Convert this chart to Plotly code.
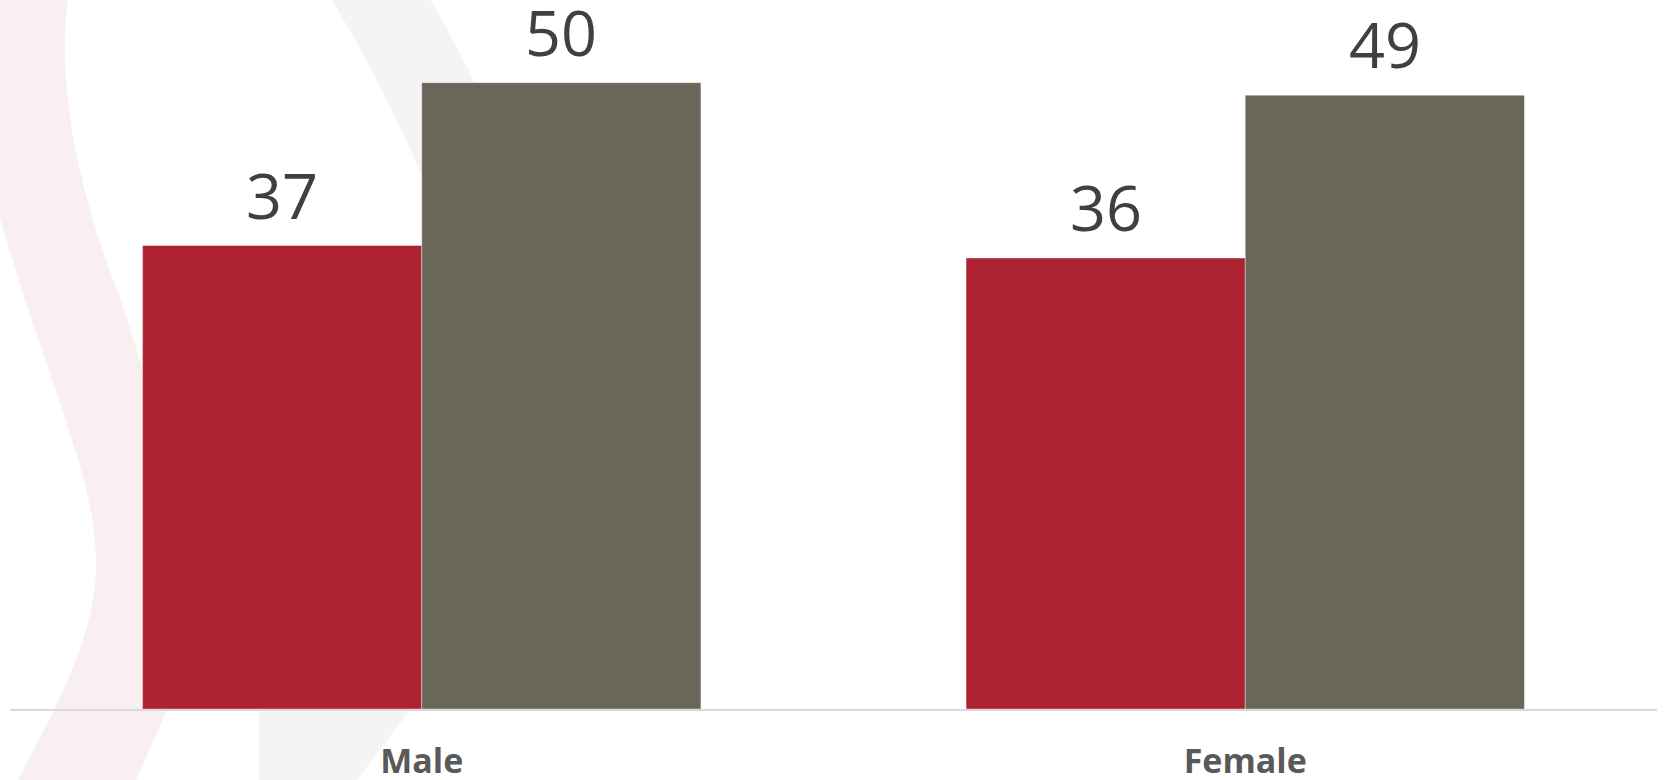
import plotly.graph_objects as go

categories = ["Male", "Female"]
series_a = [37, 36]
series_b = [50, 49]
series_a_name = "Series A"
series_b_name = "Series B"

RED = "#ad2231"
GRAY = "#6b665a"

W, H = 1666, 780
ML, MR, MT, MB = 10, 9, 10, 71
PW, PH = W - ML - MR, H - MT - MB
BARGAP = 0.322

fig = go.Figure()

for name, vals, col in [(series_a_name, series_a, RED), (series_b_name, series_b, GRAY)]:
    fig.add_trace(go.Bar(
        x=categories, y=vals, name=name,
        marker=dict(color=col, line=dict(color="rgba(255,255,255,0.5)", width=0.75)),
        cliponaxis=False, showlegend=False, hoverinfo="x+y",
    ))

# value labels above bars
bar_px = PW / len(categories) * (1 - BARGAP) / 2
annotations = []
for vals, shift in [(series_a, -bar_px / 2), (series_b, bar_px / 2)]:
    for cat, v in zip(categories, vals):
        annotations.append(dict(
            x=cat, y=v, xref="x", yref="y", text=str(v), showarrow=False,
            xanchor="center", yanchor="bottom", xshift=shift, yshift=7,
            font=dict(family="Open Sans", size=63, color="#404040"),
        ))


# faint logo swooshes in the background (decorative)
def px_path(d_points):
    out = []
    for tok in d_points:
        if isinstance(tok, str):
            out.append(tok)
        else:
            x, y = tok
            out.append(f"{(x - ML) / PW:.5f},{1 - (y - MT) / PH:.5f}")
    return " ".join(out)


pink_path = px_path([
    "M", (0, 0), "L", (68, 0), "C", (58, 70), (70, 170), (121, 300),
    "L", (165, 440), "C", (200, 560), (190, 660), (167, 710),
    "L", (136, 780), "L", (18, 780), "C", (60, 700), (98, 630), (96, 560),
    "C", (94, 500), (80, 460), (25, 300), "L", (0, 219), "Z",
])
gray_arc = px_path([
    "M", (332, 0), "L", (430, 0), "Q", (455, 40), (480, 95),
    "L", (480, 260), "L", (421, 173), "Q", (380, 80), (332, 0), "Z",
])
gray_low = px_path([
    "M", (259, 709), "L", (411, 709), "L", (357, 780), "L", (259, 780), "Z",
])
shapes = [
    dict(type="path", path=pink_path, xref="paper", yref="paper",
         fillcolor="#f9eff0", line=dict(width=0), layer="below"),
    dict(type="path", path=gray_arc, xref="paper", yref="paper",
         fillcolor="#f4f4f4", line=dict(width=0), layer="below"),
    dict(type="path", path=gray_low, xref="paper", yref="paper",
         fillcolor="#f4f4f4", line=dict(width=0), layer="below"),
]

fig.update_layout(
    width=W, height=H,
    margin=dict(l=ML, r=MR, t=MT, b=MB),
    paper_bgcolor="white", plot_bgcolor="rgba(0,0,0,0)",
    barmode="group", bargap=BARGAP, bargroupgap=0,
    xaxis=dict(showline=True, linecolor="#d9d9d9", linewidth=1.5,
               showgrid=False, zeroline=False, ticks="", ticklabelstandoff=21,
               automargin=False,
               tickfont=dict(family="Open Sans", size=34, color="#595959", weight="bold")),
    yaxis=dict(range=[0, 55.8], visible=False, showgrid=False, zeroline=False,
               automargin=False),
    annotations=annotations,
    shapes=shapes,
)

fig.write_html("out.html", config={"displayModeBar": False},
               post_script="document.body.style.margin='0';")
